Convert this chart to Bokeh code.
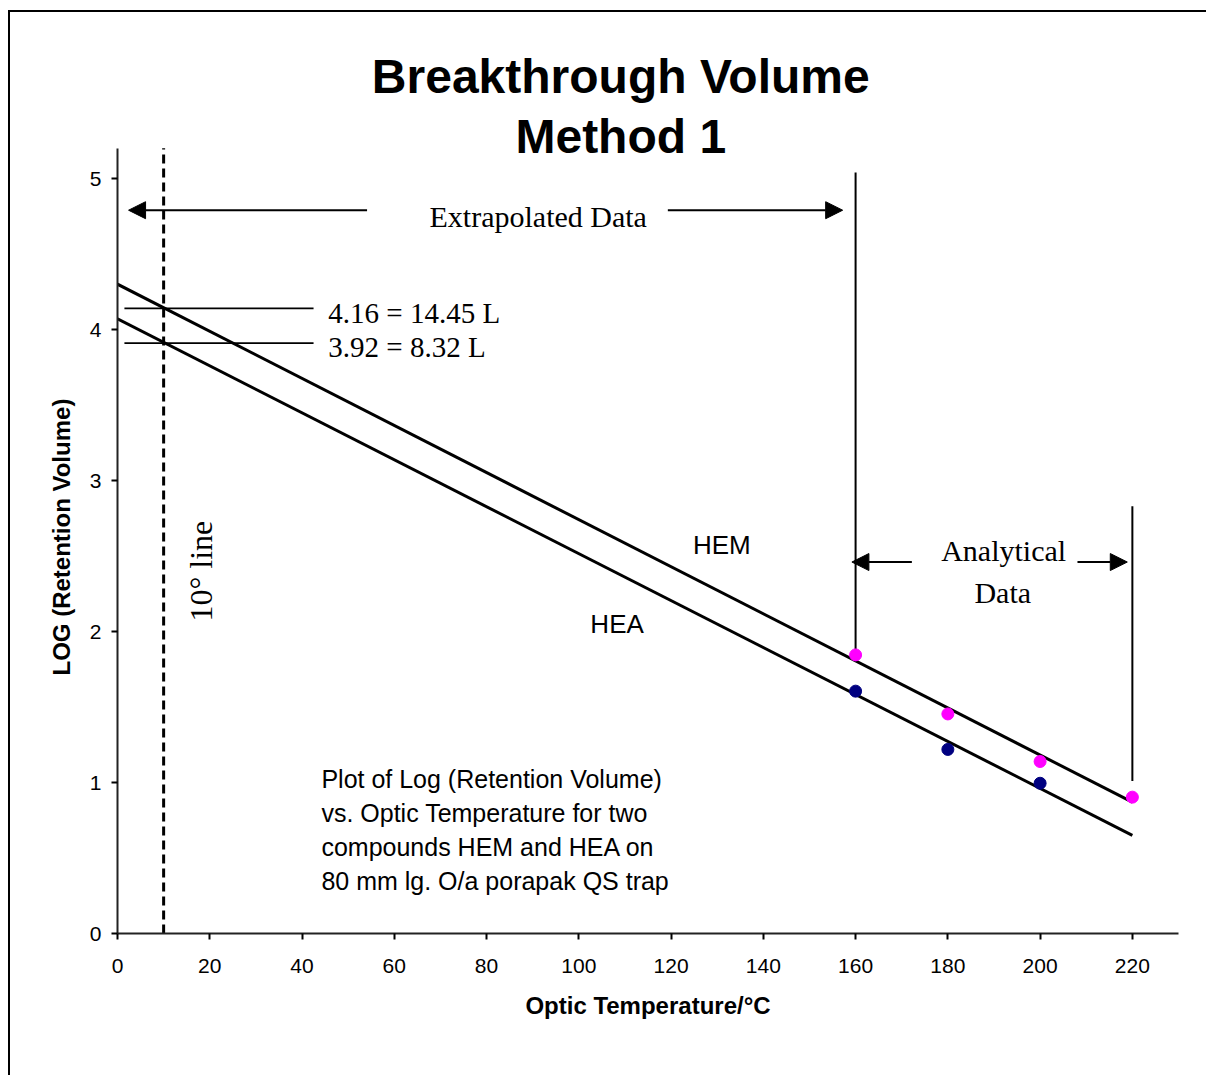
import numpy as np
from bokeh.plotting import figure
from bokeh.models import Label, Arrow, NormalHead, Title
from bokeh.embed import file_html
from bokeh.resources import INLINE

# ---- data ----
temp_hem = [160, 180, 200, 220]
logv_hem = [1.845, 1.454, 1.139, 0.903]
temp_hea = [160, 180, 200]
logv_hea = [1.605, 1.219, 0.995]

fit_x = [0, 220]
fit_hem = [4.30, 0.87]
fit_hea = [4.07, 0.65]

mark_x = [1.5, 42.5]
mark_hem_y = [4.14, 4.14]
mark_hea_y = [3.91, 3.91]
mark_hem_label = "4.16 = 14.45 L"
mark_hea_label = "3.92 = 8.32 L"

x_ticks = [0, 20, 40, 60, 80, 100, 120, 140, 160, 180, 200, 220]
y_ticks = [0, 1, 2, 3, 4, 5]

SANS = "Liberation Sans"
SERIF = "Liberation Serif"

YMAX = 899 / 151.0

p = figure(width=1198, height=1065, output_backend="svg", toolbar_location=None,
           x_range=(0, 230), y_range=(0, YMAX),
           min_border_left=107, min_border_right=30, min_border_top=22, min_border_bottom=144)
p.styles = {"border-left": "2px solid black", "border-top": "2px solid black",
            "margin-left": "8px", "margin-top": "10px"}
p.xgrid.visible = False
p.ygrid.visible = False
p.outline_line_color = None
p.background_fill_color = "white"

for ax in (p.xaxis, p.yaxis):
    ax.axis_line_width = 2
    ax.axis_line_color = "#222222"
    ax.major_tick_line_width = 2
    ax.major_tick_in = 0
    ax.major_tick_out = 6
    ax.minor_tick_line_color = None
    ax.major_label_text_font = SANS
    ax.major_label_text_font_size = "21px"
    ax.major_label_text_color = "black"
    ax.axis_label_text_font = SANS
    ax.axis_label_text_font_size = "24px"
    ax.axis_label_text_font_style = "bold"
    ax.axis_label_text_color = "black"

p.xaxis.ticker = x_ticks
p.yaxis.ticker = y_ticks
p.yaxis.bounds = (0, 5.2)
p.xaxis.axis_label = "Optic Temperature/°C"
p.xaxis.major_label_standoff = 19
p.yaxis.major_label_standoff = 10
p.xaxis.axis_label_standoff = 16

# y axis title, placed along the lower part of the left side
p.add_layout(Title(text="LOG (Retention Volume)", align="left", offset=258,
                   text_font=SANS, text_font_size="24px", text_font_style="bold",
                   text_color="black", standoff=24), "left")

# 10 degree line
p.segment(x0=[10], y0=[0], x1=[10], y1=[5.2], line_color="black",
          line_width=3, line_dash="9 5")

# fitted lines
p.line(fit_x, fit_hem, line_color="black", line_width=3)
p.line(fit_x, fit_hea, line_color="black", line_width=3)

# marker lines
p.line(mark_x, mark_hem_y, line_color="black", line_width=1.6)
p.line(mark_x, mark_hea_y, line_color="black", line_width=1.6)

# vertical boundary lines
p.segment(x0=[160, 220], y0=[5.04, 2.83], x1=[160, 220], y1=[1.83, 1.01],
          line_color="black", line_width=2)

# data points
p.scatter(temp_hem, logv_hem, size=12, color="#FF00FF")
p.scatter(temp_hea, logv_hea, size=12, color="#000080")

# arrows
def arrow(x0, y0, x1, y1):
    p.add_layout(Arrow(end=NormalHead(size=17, fill_color="black", line_color="black", line_width=1),
                       x_start=x0, y_start=y0, x_end=x1, y_end=y1,
                       line_color="black", line_width=2))

arrow(54.1, 4.79, 2.4, 4.79)
arrow(119.3, 4.79, 157.2, 4.79)
arrow(172.2, 2.46, 159.2, 2.46)
arrow(208.1, 2.46, 218.9, 2.46)

def lab(x, y, text, font, size, align="center", baseline="middle", angle=0, style="normal"):
    p.add_layout(Label(x=x, y=y, text=text, text_font=font, text_font_size=size,
                       text_align=align, text_baseline=baseline, angle=angle,
                       text_font_style=style, text_color="black"))

# title
lab(109.1, 5.675, "Breakthrough Volume", SANS, "48px", style="bold")
lab(109.1, 5.278, "Method 1", SANS, "48px", style="bold")

lab(91.2, 4.75, "Extrapolated Data", SERIF, "30px")
lab(45.7, 4.106, mark_hem_label, SERIF, "29px", align="left")
lab(45.7, 3.881, mark_hea_label, SERIF, "29px", align="left")
lab(18.0, 2.40, "10° line", SERIF, "32px", angle=np.pi / 2)
lab(192.1, 2.536, "Analytical", SERIF, "30px")
lab(191.9, 2.258, "Data", SERIF, "30px")

lab(131.0, 2.57, "HEM", SANS, "26px")
lab(108.3, 2.05, "HEA", SANS, "26px")

block = ["Plot of Log (Retention Volume)",
         "vs. Optic Temperature for two",
         "compounds HEM and HEA on",
         "80 mm lg. O/a porapak QS trap"]
for i, line in enumerate(block):
    lab(44.2, 1.02 - i * 0.2252, line, SANS, "25px", align="left")

open("out.html", "w").write(file_html(p, INLINE))
